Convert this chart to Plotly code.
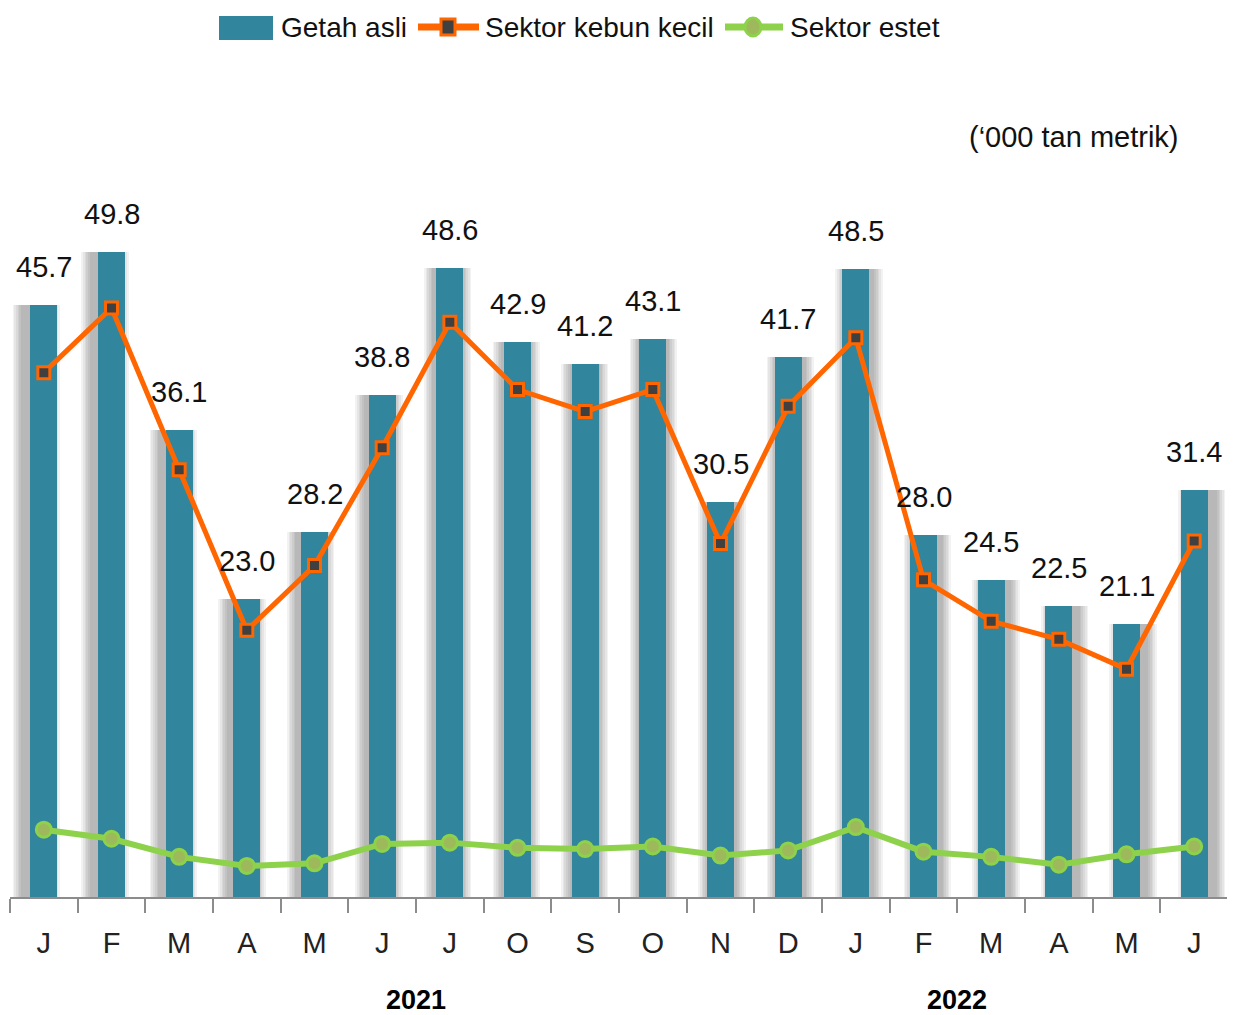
import plotly.graph_objects as go

months = ["J", "F", "M", "A", "M", "J", "J", "O", "S", "O", "N", "D",
          "J", "F", "M", "A", "M", "J"]
getah_asli = [45.7, 49.8, 36.1, 23.0, 28.2, 38.8, 48.6, 42.9, 41.2, 43.1, 30.5, 41.7,
              48.5, 28.0, 24.5, 22.5, 21.1, 31.4]
kebun_kecil = [40.5, 45.5, 33.0, 20.6, 25.6, 34.7, 44.4, 39.2, 37.5, 39.2, 27.3, 37.9,
               43.2, 24.5, 21.3, 19.9, 17.6, 27.5]
estet = [5.2, 4.5, 3.1, 2.4, 2.6, 4.1, 4.2, 3.8, 3.7, 3.9, 3.2, 3.6,
         5.4, 3.5, 3.1, 2.5, 3.3, 3.9]
years = ["2021", "2022"]
year_pos = [5.5, 13.5]
series_names = ["Getah asli", "Sektor kebun kecil", "Sektor estet"]

BAR_C = "#31859C"
ORANGE = "#FF6600"
GREEN = "#8ED14B"
GREEN_FILL = "#9DB95C"
SQ_FILL = "#404040"
FONT = "Liberation Sans, Arial, sans-serif"

idx = list(range(len(months)))
n = len(idx)

# page has an 8px body margin; plot area spans screen px x 10..1228, y 150..897
L_PX, R_PX, T_PX, B_PX = 10, 1228, 150, 897


def px(xp):
    return (xp - L_PX) / (R_PX - L_PX)


def py(yp):
    return (B_PX - yp) / (B_PX - T_PX)


fig = go.Figure()

# soft shadows behind bars
for k in range(6):
    fig.add_trace(go.Bar(
        x=[i + (i - (n - 1) / 2) * 0.013 for i in idx],
        y=getah_asli,
        width=0.40 + 0.05 * (k + 1),
        marker=dict(color="rgba(0,0,0,0.05)", line=dict(width=0)),
        showlegend=False, hoverinfo="skip",
    ))

fig.add_trace(go.Bar(
    x=idx, y=getah_asli, width=0.40, name=series_names[0],
    marker=dict(color=BAR_C, line=dict(width=0)), showlegend=False,
))

fig.add_trace(go.Scatter(
    x=idx, y=kebun_kecil, mode="lines+markers", name=series_names[1],
    line=dict(color=ORANGE, width=5),
    marker=dict(symbol="square", size=12, color=SQ_FILL,
                line=dict(color=ORANGE, width=3)),
    showlegend=False,
))

fig.add_trace(go.Scatter(
    x=idx, y=estet, mode="lines+markers", name=series_names[2],
    line=dict(color=GREEN, width=6),
    marker=dict(symbol="circle", size=15, color=GREEN_FILL,
                line=dict(color=GREEN, width=3)),
    showlegend=False,
))

annotations = []
for i, v in zip(idx, getah_asli):
    annotations.append(dict(
        x=i, y=v, xref="x", yref="y", text=f"{v:.1f}", showarrow=False,
        yshift=38, yanchor="middle",
        font=dict(family=FONT, size=29, color="#111111"),
    ))
for yr, p in zip(years, year_pos):
    annotations.append(dict(
        x=p, y=py(1000), xref="x", yref="paper", text=f"<b>{yr}</b>",
        showarrow=False, yanchor="middle",
        font=dict(family=FONT, size=27, color="#000000"),
    ))
annotations.append(dict(
    x=px(1181), y=py(137), xref="paper", yref="paper",
    text="(‘000 tan metrik)", showarrow=False, xanchor="right", yanchor="middle",
    font=dict(family=FONT, size=29, color="#111111"),
))

# custom legend (drawn to resemble the reference legend)
LEG_Y = 27
legend_text_x = [279, 483, 788]
for name, xl in zip(series_names, legend_text_x):
    annotations.append(dict(
        x=px(xl), y=py(LEG_Y + 1), xref="paper", yref="paper", text=name,
        showarrow=False, xanchor="left", yanchor="middle",
        font=dict(family=FONT, size=28, color="#111111"),
    ))

shapes = [
    dict(type="rect", xref="paper", yref="paper",
         x0=px(219), x1=px(273), y0=py(40), y1=py(16),
         fillcolor=BAR_C, line=dict(width=0), layer="above"),
    dict(type="line", xref="paper", yref="paper",
         x0=px(418), x1=px(479), y0=py(LEG_Y), y1=py(LEG_Y),
         line=dict(color=ORANGE, width=7), layer="above"),
    dict(type="rect", xref="paper", yref="paper",
         xsizemode="pixel", ysizemode="pixel",
         xanchor=px(448), yanchor=py(LEG_Y),
         x0=-7, x1=7, y0=-8, y1=8,
         fillcolor=SQ_FILL, line=dict(color=ORANGE, width=3), layer="above"),
    dict(type="line", xref="paper", yref="paper",
         x0=px(725), x1=px(783), y0=py(LEG_Y), y1=py(LEG_Y),
         line=dict(color=GREEN, width=7), layer="above"),
    dict(type="circle", xref="paper", yref="paper",
         xsizemode="pixel", ysizemode="pixel",
         xanchor=px(753), yanchor=py(LEG_Y),
         x0=-8, x1=8, y0=-9, y1=9,
         fillcolor=GREEN_FILL, line=dict(color=GREEN, width=3), layer="above"),
]

fig.update_layout(
    width=1227, height=1007,
    margin=dict(l=L_PX - 8, r=1235 - R_PX, t=T_PX - 8, b=1015 - B_PX),
    paper_bgcolor="white", plot_bgcolor="white",
    barmode="overlay",
    bargap=0,
    showlegend=False,
    annotations=annotations,
    shapes=shapes,
    xaxis=dict(
        range=[-0.5, n - 0.5],
        tickvals=idx, ticktext=months, ticks="",
        tickfont=dict(family=FONT, size=29, color="#222222"),
        ticklabelstandoff=19,
        showline=True, linecolor="#8C8C8C", linewidth=2,
        showgrid=False, zeroline=False,
        minor=dict(tickvals=[i - 0.5 for i in range(n + 1)], ticks="outside",
                   ticklen=14, tickwidth=2, tickcolor="#8C8C8C", showgrid=False),
    ),
    yaxis=dict(range=[0, 57.7], visible=False, showgrid=False, zeroline=False),
)

fig.write_html("out.html")
